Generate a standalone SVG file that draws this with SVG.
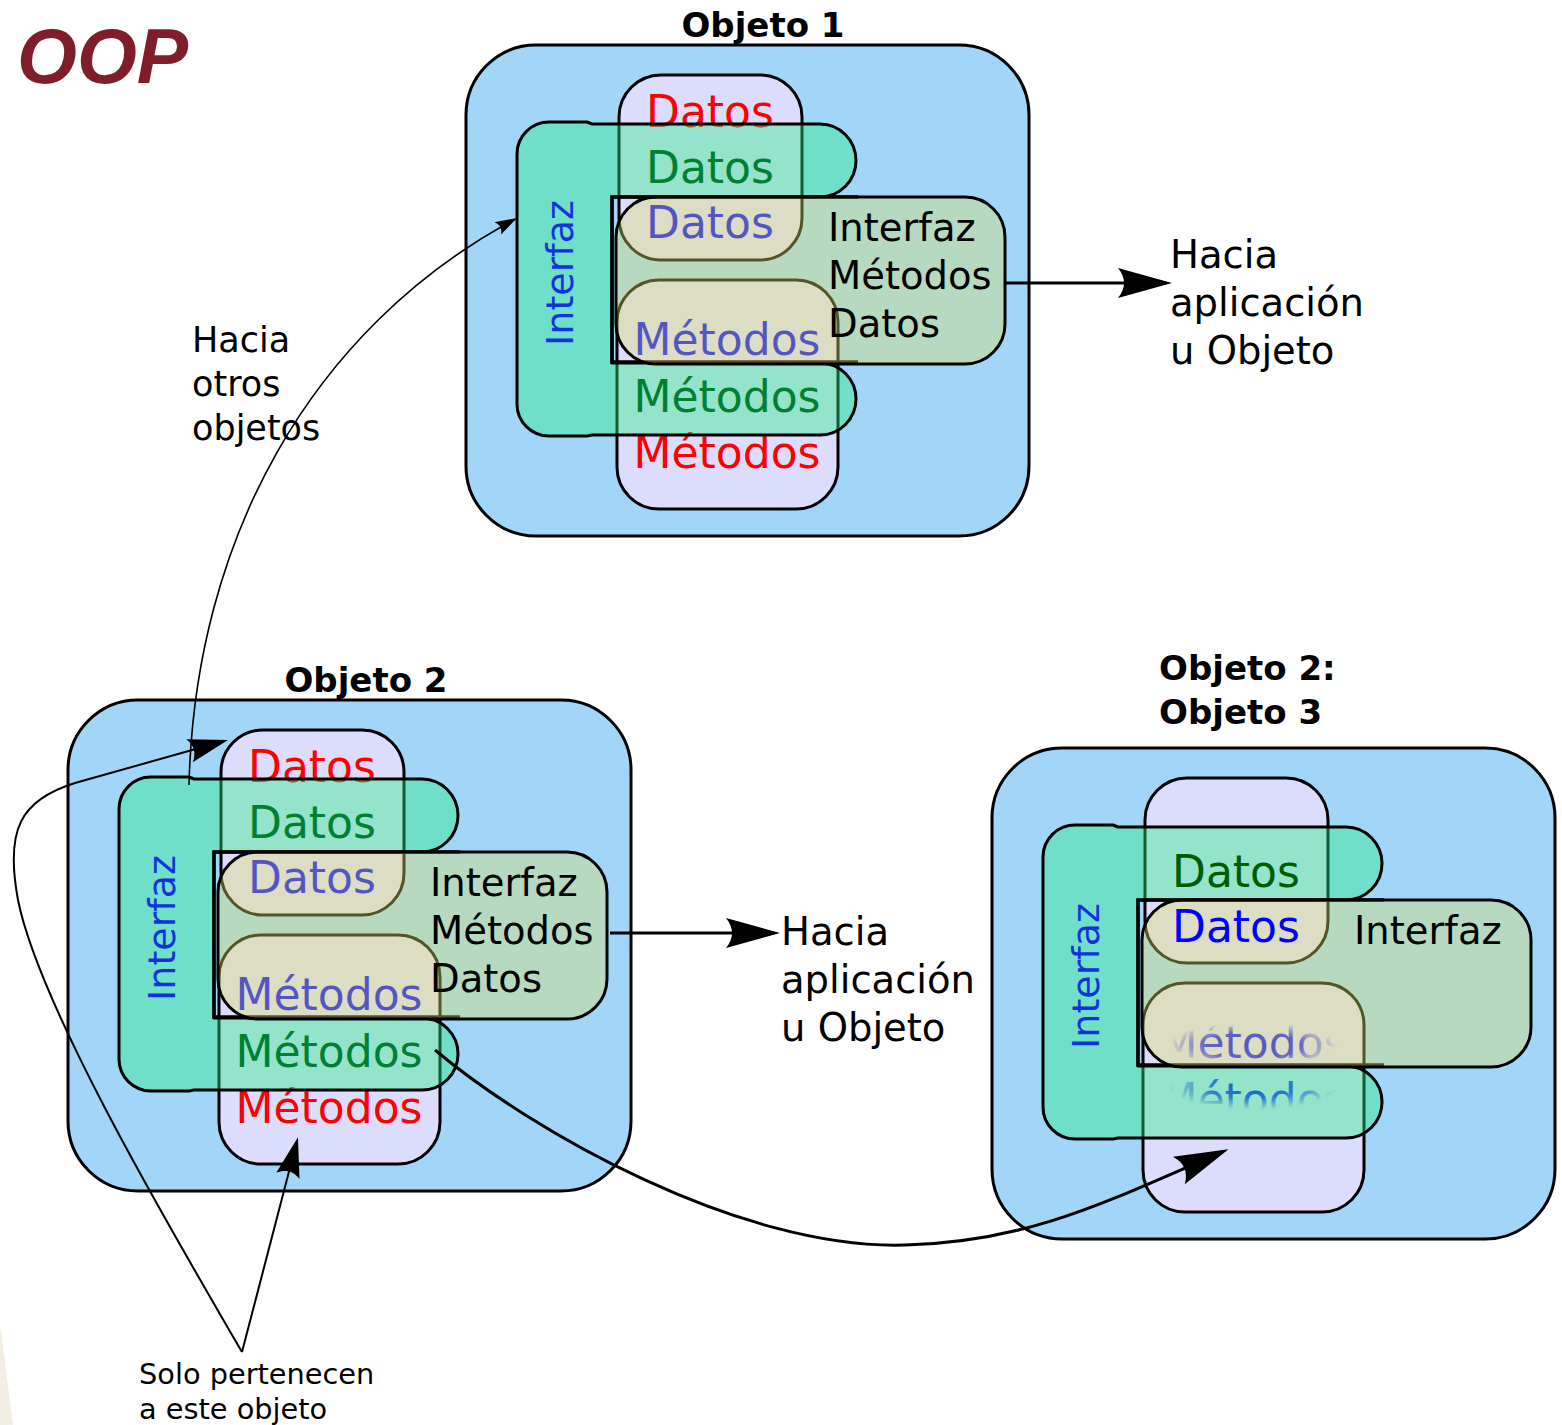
<svg xmlns="http://www.w3.org/2000/svg" width="1562" height="1425" viewBox="0 0 1562 1425">
<style>
.bg{fill:#a1d6f9;stroke:#000;stroke-width:3}
.pur{fill:#dcdcfc;stroke:#000;stroke-width:3}
.teal{fill:rgb(40,238,130);fill-opacity:.4;stroke:#000;stroke-width:3;stroke-linejoin:round}
.sq{fill:none;stroke:#000;stroke-width:3.5}
.gbox{fill:rgb(220,223,100);fill-opacity:.38;stroke:#000;stroke-width:3}
.big{font-family:"DejaVu Sans",sans-serif;font-size:44px;text-anchor:middle}
.red{fill:#ff0000}.grn{fill:#008030}.dgrn{fill:#005c00}.blu{fill:#0000ff}
.lbl{font-family:"DejaVu Sans",sans-serif;font-size:38.5px;fill:#000}
.vert{font-family:"DejaVu Sans",sans-serif;font-size:38px;fill:#1432dc;text-anchor:middle}
.ttl{font-family:"DejaVu Sans",sans-serif;font-weight:bold;font-size:34px;fill:#000}
.small{font-family:"DejaVu Sans",sans-serif;font-size:35px;fill:#000}
.note{font-family:"DejaVu Sans",sans-serif;font-size:28.8px;fill:#000}
.conn{fill:none;stroke:#000}
</style>
<defs>
<marker id="arrL" markerUnits="userSpaceOnUse" orient="auto" refX="0" refY="0" markerWidth="60" markerHeight="40" overflow="visible"><path d="M 6,0 L -48,-15 C -40,-5 -40,5 -48,15 Z" fill="#000"/></marker>
<marker id="arrM" markerUnits="userSpaceOnUse" orient="auto" refX="0" refY="0" markerWidth="50" markerHeight="30" overflow="visible"><path d="M 5,0 L -35,-12 C -29,-4 -29,4 -35,12 Z" fill="#000"/></marker>
<marker id="arrS" markerUnits="userSpaceOnUse" orient="auto" refX="0" refY="0" markerWidth="30" markerHeight="20" overflow="visible"><path d="M 3,0 L -19,-7 C -15,-2 -15,2 -19,7 Z" fill="#000"/></marker>
<radialGradient id="fadeA" cx="0.5" cy="0.55" r="0.5"><stop offset="0" stop-color="#0000ff" stop-opacity="1"/><stop offset="0.5" stop-color="#0000ff" stop-opacity="0.9"/><stop offset="0.9" stop-color="#0000ff" stop-opacity="0"/></radialGradient>
<radialGradient id="fadeB" cx="0.5" cy="0.25" r="0.5"><stop offset="0" stop-color="#0000ff" stop-opacity="1"/><stop offset="0.45" stop-color="#0000ff" stop-opacity="0.8"/><stop offset="0.9" stop-color="#0000ff" stop-opacity="0"/></radialGradient>
</defs>
<polygon points="0,1330 1,1330 13,1425 0,1425" fill="#f2eee3"/>
<text x="17" y="83" font-family="Liberation Sans, Arial, sans-serif" font-weight="bold" font-style="italic" font-size="77" fill="#7f1e2a">OOP</text>

<g id="objeto1" transform="translate(466,45)">
<text class="ttl" x="297" y="-8" text-anchor="middle">Objeto 1</text>
<rect class="bg" x="0" y="0" width="563" height="491" rx="70"/>
<rect class="pur" x="153" y="30" width="183" height="185" rx="42"/>
<rect class="pur" x="151" y="235" width="221" height="229" rx="42"/>
<text class="big red" x="244" y="82">Datos</text>
<text class="big blu" x="244" y="193">Datos</text>
<text class="big blu" x="261" y="310">Métodos</text>
<text class="big red" x="261" y="423">Métodos</text>
<path class="teal" d="M 83,77 L 121,77 L 126,79 L 354,79 A 36,36.5 0 0 1 354,152 L 146,152 L 146,318 L 354,318 A 36,36 0 0 1 354,390 L 126,390 L 121,391 L 83,391 A 32,32 0 0 1 51,359 L 51,109 A 32,32 0 0 1 83,77 Z"/>
<text class="big grn" x="244" y="138">Datos</text>
<text class="big grn" x="261" y="367">Métodos</text>
<path class="sq" d="M 392,152 L 146,152 L 146,317 L 392,317"/>
<rect class="gbox" x="150" y="152" width="389" height="167" rx="40"/>
<text class="lbl" x="362" y="196">Interfaz</text>
<text class="lbl" x="362" y="244">Métodos</text>
<text class="lbl" x="362" y="292">Datos</text>
<text class="vert" transform="translate(107,228) rotate(-90)">Interfaz</text>
</g>

<g id="objeto2" transform="translate(68,700)">
<text class="ttl" x="298" y="-8" text-anchor="middle">Objeto 2</text>
<rect class="bg" x="0" y="0" width="563" height="491" rx="70"/>
<rect class="pur" x="153" y="30" width="183" height="185" rx="42"/>
<rect class="pur" x="151" y="235" width="221" height="229" rx="42"/>
<text class="big red" x="244" y="82">Datos</text>
<text class="big blu" x="244" y="193">Datos</text>
<text class="big blu" x="261" y="310">Métodos</text>
<text class="big red" x="261" y="423">Métodos</text>
<path class="teal" d="M 83,77 L 121,77 L 126,79 L 354,79 A 36,36.5 0 0 1 354,152 L 146,152 L 146,318 L 354,318 A 36,36 0 0 1 354,390 L 126,390 L 121,391 L 83,391 A 32,32 0 0 1 51,359 L 51,109 A 32,32 0 0 1 83,77 Z"/>
<text class="big grn" x="244" y="138">Datos</text>
<text class="big grn" x="261" y="367">Métodos</text>
<path class="sq" d="M 392,152 L 146,152 L 146,317 L 392,317"/>
<rect class="gbox" x="150" y="152" width="389" height="167" rx="40"/>
<text class="lbl" x="362" y="196">Interfaz</text>
<text class="lbl" x="362" y="244">Métodos</text>
<text class="lbl" x="362" y="292">Datos</text>
<text class="vert" transform="translate(107,228) rotate(-90)">Interfaz</text>
</g>

<g id="objeto3" transform="translate(992,748)">
<text class="ttl" x="167" y="-68">Objeto 2:</text>
<text class="ttl" x="167" y="-24">Objeto 3</text>
<rect class="bg" x="0" y="0" width="563" height="491" rx="70"/>
<rect class="pur" x="153" y="30" width="183" height="185" rx="42"/>
<rect class="pur" x="151" y="235" width="221" height="229" rx="42"/>
<text class="big" x="261" y="310" fill="url(#fadeA)">Métodos</text>
<text class="big" x="261" y="367" fill="url(#fadeB)">Métodos</text>
<path class="teal" d="M 83,77 L 121,77 L 126,79 L 354,79 A 36,36.5 0 0 1 354,152 L 146,152 L 146,318 L 354,318 A 36,36 0 0 1 354,390 L 126,390 L 121,391 L 83,391 A 32,32 0 0 1 51,359 L 51,109 A 32,32 0 0 1 83,77 Z"/>
<text class="big dgrn" x="244" y="139">Datos</text>
<path class="sq" d="M 392,152 L 146,152 L 146,317 L 392,317"/>
<rect class="gbox" x="150" y="152" width="389" height="167" rx="40"/>
<text class="big blu" x="244" y="194">Datos</text>
<text class="lbl" x="362" y="196">Interfaz</text>
<text class="vert" transform="translate(107,228) rotate(-90)">Interfaz</text>
</g>

<g id="connectors">
<path class="conn" stroke-width="3" d="M 1005,283 L 1166,283" marker-end="url(#arrL)"/>
<path class="conn" stroke-width="3" d="M 610,933 L 774,933" marker-end="url(#arrL)"/>
<path class="conn" stroke-width="1.6" d="M 189,785 C 195,540 310,330 514.4,219.4" marker-end="url(#arrS)"/>
<path class="conn" stroke-width="2" d="M 242,1352 C 180,1245 40,1010 18,900 C 5,830 20,800 75,783 L 223.2,741.3" marker-end="url(#arrM)"/>
<path class="conn" stroke-width="2" d="M 242,1352 L 296.7,1142" marker-end="url(#arrM)"/>
<path class="conn" stroke-width="3" d="M 435,1050 C 530,1130 740,1250 905,1245 C 1030,1242 1110,1200 1223,1151.5" marker-end="url(#arrL)"/>
</g>

<g id="labels">
<text class="lbl" x="1170" y="268">Hacia</text>
<text class="lbl" x="1170" y="316">aplicación</text>
<text class="lbl" x="1170" y="364">u Objeto</text>
<text class="lbl" x="781" y="945">Hacia</text>
<text class="lbl" x="781" y="993">aplicación</text>
<text class="lbl" x="781" y="1041">u Objeto</text>
<text class="small" x="192" y="352">Hacia</text>
<text class="small" x="192" y="396">otros</text>
<text class="small" x="192" y="440">objetos</text>
<text class="note" x="139" y="1384">Solo pertenecen</text>
<text class="note" x="139" y="1419">a este objeto</text>
</g>
</svg>
